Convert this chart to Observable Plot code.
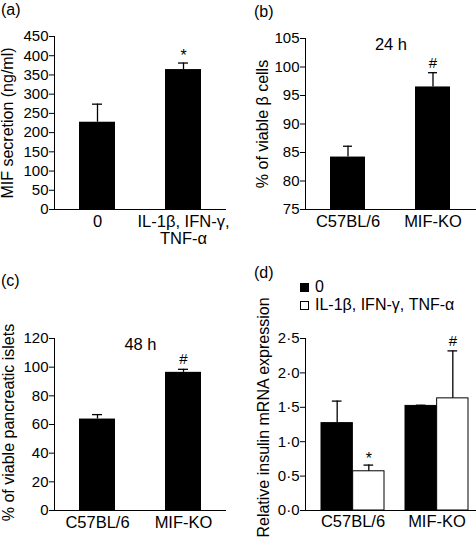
<!DOCTYPE html>
<html>
<head>
<meta charset="utf-8">
<script src="https://cdn.jsdelivr.net/npm/d3@7"></script>
<script src="https://cdn.jsdelivr.net/npm/@observablehq/plot@0.6"></script>
<style>
  body { margin: 0; background: white; }
  #fig { position: relative; width: 476px; height: 549px; overflow: hidden; background: white;
         font-family: "Liberation Sans", Arial, Helvetica, sans-serif; color: black; }
  .panel { position: absolute; }
  .plabel { position: absolute; font-size: 16px; line-height: 1; }
  .legend { position: absolute; font-size: 16px; line-height: 1; }
  .legend .row { display: flex; align-items: center; height: 18px; }
  .legend .sw { width: 9px; height: 9px; border: 1px solid black; margin-right: 6px; box-sizing: border-box; }
</style>
</head>
<body>
<div id="fig"></div>
<script>
// ---------- data ----------
// (a)
const catsA = ["0", "IL-1β, IFN-γ,\nTNF-α"];
const valuesA = [227, 364];
const errorsA = [47, 17];
const signifA = ["", "*"];
const ticksA = [0, 50, 100, 150, 200, 250, 300, 350, 400, 450];
// (b)
const catsB = ["C57BL/6", "MIF-KO"];
const valuesB = [84.2, 96.5];
const errorsB = [1.9, 2.5];
const signifB = ["", "#"];
const ticksB = [75, 80, 85, 90, 95, 100, 105];
const titleB = "24 h";
// (c)
const catsC = ["C57BL/6", "MIF-KO"];
const valuesC = [63.8, 96.4];
const errorsC = [3.1, 2.1];
const signifC = ["", "#"];
const ticksC = [0, 20, 40, 60, 80, 100, 120];
const titleC = "48 h";
// (d)
const groupsD = ["C57BL/6", "MIF-KO"];
const treatmentsD = ["0", "IL-1β, IFN-γ, TNF-α"];
const valuesD0 = [1.27, 1.52];
const errorsD0 = [0.32, 0.01];
const signifD0 = ["", ""];
const valuesD1 = [0.57, 1.63];
const errorsD1 = [0.09, 0.69];
const signifD1 = ["*", "#"];
const ticksD = [0, 0.5, 1.0, 1.5, 2.0, 2.5];

// ---------- helpers ----------
const FONT = '"Liberation Sans", Arial, Helvetica, sans-serif';
const fig = document.getElementById("fig");
function place(node, left, top, labelShift = 0) {
  const lab = d3.select(node).selectAll('g[aria-label="y-axis label"]');
  lab.selectAll("text").attr("font-size", 16);
  if (labelShift) lab.each(function () {
    const t = this.getAttribute("transform") || "";
    this.setAttribute("transform", `translate(0,${labelShift}) ${t}`);
  });
  node.classList.add("panel");
  node.style.left = left + "px";
  node.style.top = top + "px";
  fig.appendChild(node);
}
function rows(cats, vals, errs, sig) {
  return cats.map((c, i) => ({cat: c, value: vals[i], err: errs[i], top: vals[i] + errs[i], sig: sig[i]}));
}
function axisLines(base) {
  return [
    Plot.ruleY([base], {stroke: "black", strokeWidth: 1}),
    Plot.frame({anchor: "left", stroke: "black", strokeWidth: 1})
  ];
}

function simplePanel({cats, vals, errs, sig, ticks, label, title, width, height, margins, xPad, labelOffset, base}) {
  const data = rows(cats, vals, errs, sig);
  const marks = [
    Plot.barY(data, {x: "cat", y1: () => base, y2: "value", fill: "black"}),
    Plot.ruleX(data, {x: "cat", y1: "value", y2: "top", stroke: "black", strokeWidth: 1.3}),
    Plot.tickY(data, {x: "cat", y: "top", stroke: "black", strokeWidth: 1.3, inset: 13}),
    Plot.text(data.filter(d => d.sig === "*"), {x: "cat", y: "top", text: "sig", dy: -7, fontSize: 16}),
    Plot.text(data.filter(d => d.sig === "#"), {x: "cat", y: "top", text: "sig", dy: -10, fontSize: 15}),
    ...axisLines(base),
    Plot.axisY({ticks, tickSize: 5, tickPadding: 1, fontSize: 15, label, labelAnchor: "center",
                labelArrow: "none", labelOffset}),
    Plot.axisX({tickSize: 0, tickPadding: 5, fontSize: 16.5, label: null, lineHeight: 1.05})
  ];
  if (title) marks.push(Plot.text([title], {frameAnchor: "top", text: d => d, fontSize: 16.5}));
  return Plot.plot({
    width, height,
    marginLeft: margins[0], marginRight: margins[1], marginTop: margins[2], marginBottom: margins[3],
    style: {fontFamily: FONT, color: "black", background: "white", overflow: "visible"},
    x: {domain: cats, paddingInner: xPad[0], paddingOuter: xPad[1], align: 0.5, label: null},
    y: {domain: [ticks[0], ticks[ticks.length - 1]], label},
    marks
  });
}

// (a)
place(simplePanel({cats: catsA, vals: valuesA, errs: errorsA, sig: signifA, ticks: ticksA,
  label: "MIF secretion (ng/ml)", width: 238, height: 275, margins: [54, 12, 36, 66],
  xPad: [0.584, 0.284], labelOffset: 53, base: 0}), 0, 0);

// (b)
place(simplePanel({cats: catsB, vals: valuesB, errs: errorsB, sig: signifB, ticks: ticksB,
  label: "% of viable β cells", title: titleB, width: 238, height: 275, margins: [67, 0, 38, 66],
  xPad: [0.585, 0.29], labelOffset: 49, base: ticksB[0]}), 238, 0);

// (c)
place(simplePanel({cats: catsC, vals: valuesC, errs: errorsC, sig: signifC, ticks: ticksC,
  label: "% of viable pancreatic islets", title: titleC, width: 238, height: 274, margins: [54, 12, 63, 39],
  xPad: [0.584, 0.284], labelOffset: 52, base: 0}), 0, 275, -2);

// (d) grouped bars: each group band split in two halves
{
  const bw = 63.3; // band width in px (styling)
  const h = bw / 2, q = bw / 4, cap = 5;
  const d0 = rows(groupsD, valuesD0, errorsD0, signifD0);
  const d1 = rows(groupsD, valuesD1, errorsD1, signifD1);
  const fmt = d => d3.format(".1f")(d).replace(".", "·");
  const plot = Plot.plot({
    width: 238, height: 274,
    marginLeft: 67, marginRight: 0, marginTop: 63, marginBottom: 39,
    style: {fontFamily: FONT, color: "black", background: "white", overflow: "visible"},
    x: {domain: groupsD, paddingInner: 0.255, paddingOuter: 0.135, align: 0.665, label: null},
    y: {domain: [0, 2.5], label: "Relative insulin mRNA expression"},
    marks: [
      Plot.barY(d0, {x: "cat", y: "value", fill: "black", stroke: "black", strokeWidth: 1, insetRight: h}),
      Plot.barY(d1, {x: "cat", y: "value", fill: "white", stroke: "black", strokeWidth: 1, insetLeft: h}),
      Plot.ruleX(d0, {x: "cat", y1: "value", y2: "top", dx: -q, stroke: "black", strokeWidth: 1.3}),
      Plot.ruleX(d1, {x: "cat", y1: "value", y2: "top", dx: q, stroke: "black", strokeWidth: 1.3}),
      Plot.tickY(d0, {x: "cat", y: "top", insetLeft: q - cap, insetRight: bw - q - cap, stroke: "black", strokeWidth: 1.3}),
      Plot.tickY(d1, {x: "cat", y: "top", insetLeft: bw - q - cap, insetRight: q - cap, stroke: "black", strokeWidth: 1.3}),
      Plot.text(d1.filter(d => d.sig === "*"), {x: "cat", y: "top", text: "sig", dx: q, dy: -6, fontSize: 16}),
      Plot.text(d1.filter(d => d.sig === "#"), {x: "cat", y: "top", text: "sig", dx: q, dy: -10, fontSize: 15}),
      ...axisLines(0),
      Plot.axisY({ticks: ticksD, tickSize: 5, tickPadding: 1, fontSize: 15, tickFormat: fmt,
                  label: "Relative insulin mRNA expression", labelAnchor: "center", labelArrow: "none", labelOffset: 48}),
      Plot.axisX({tickSize: 0, tickPadding: 5, fontSize: 16.5, label: null})
    ]
  });
  place(plot, 238, 275, -7);
}

// panel labels
[["(a)", 1, 2], ["(b)", 254, 4], ["(c)", 1, 273], ["(d)", 254, 265]].forEach(([t, x, y]) => {
  const el = document.createElement("div");
  el.className = "plabel";
  el.textContent = t;
  el.style.left = x + "px";
  el.style.top = y + "px";
  fig.appendChild(el);
});

// legend for (d)
{
  const lg = document.createElement("div");
  lg.className = "legend";
  lg.style.left = "300px";
  lg.style.top = "278px";
  const fills = ["black", "white"];
  treatmentsD.forEach((t, i) => {
    const r = document.createElement("div");
    r.className = "row";
    const sw = document.createElement("span");
    sw.className = "sw";
    sw.style.background = fills[i];
    const tx = document.createElement("span");
    tx.textContent = t;
    r.appendChild(sw); r.appendChild(tx);
    lg.appendChild(r);
  });
  fig.appendChild(lg);
}
</script>
</body>
</html>
